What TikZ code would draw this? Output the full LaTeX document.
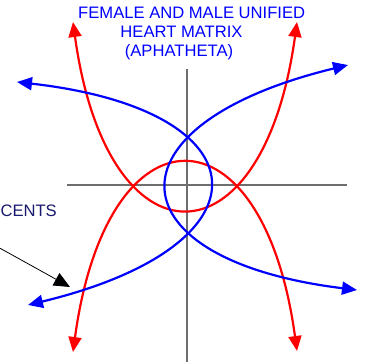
\documentclass[tikz,border=0pt]{standalone}
\usepackage{fontspec}
\setmainfont{Liberation Sans}
\usetikzlibrary{arrows.meta}
\definecolor{pureblue}{RGB}{0,0,255}
\definecolor{purered}{RGB}{255,0,0}
\definecolor{navytext}{RGB}{25,25,112}
\definecolor{axisgray}{RGB}{110,110,110}
\begin{document}
\begin{tikzpicture}[x=1bp,y=-1bp,
  >={Triangle[length=15bp,width=13bp]},
  curve/.style={line width=2.2bp,<->},
  redcurve/.style={curve,draw=purered},
  bluecurve/.style={curve,draw=pureblue},
  axisline/.style={draw=axisgray,line width=1.1bp},
  pointer/.style={draw=black,line width=0.8bp,-{Triangle[length=16bp,width=14bp]}},
  titletext/.style={text=pureblue,font=\fontsize{16.6bp}{18.7bp}\selectfont,inner sep=0pt,anchor=base},
  labeltext/.style={text=navytext,font=\fontsize{16.6bp}{19bp}\selectfont,inner sep=0pt,anchor=base east}]
\useasboundingbox (0,0) rectangle (366,362);
\clip (0,0) rectangle (366,362);
% axes
\coordinate (vtop) at (187,69);
\coordinate (vbot) at (187,362);
\coordinate (hleft) at (67,185);
\coordinate (hright) at (347,185);
\draw[axisline] (vtop) -- (vbot);
\draw[axisline] (hleft) -- (hright);
% red curves
\coordinate (rUL) at (73,22);
\coordinate (rUR) at (297,22);
\coordinate (rDL) at (73,352);
\coordinate (rDR) at (297,351);
\draw[redcurve] (rUL) .. controls (107,270) and (263,270) .. (rUR);
\draw[redcurve] (rDL) .. controls (107,102) and (263,102) .. (rDR);
% blue curves
\coordinate (bTL) at (17,82);
\coordinate (bBL) at (28,305);
\coordinate (bTR) at (348,65);
\coordinate (bBR) at (357,290);
\draw[bluecurve] (bTL) .. controls (265,110) and (276,245) .. (bBL);
\draw[bluecurve] (bTR) .. controls (101,125) and (112,260) .. (bBR);
% title
\node[titletext] (title1) at (191.7,18.3) {FEMALE AND MALE UNIFIED};
\node[titletext] (title2) at (181.5,37.3) {HEART MATRIX};
\node[titletext] (title3) at (179,56) {(APHATHETA)};
% side label and pointer
\node[labeltext] (label) at (57,216) {CENTS};
\coordinate (pstart) at (-4,246);
\coordinate (ptip) at (70,287);
\draw[pointer] (pstart) -- (ptip);
\end{tikzpicture}
\end{document}
